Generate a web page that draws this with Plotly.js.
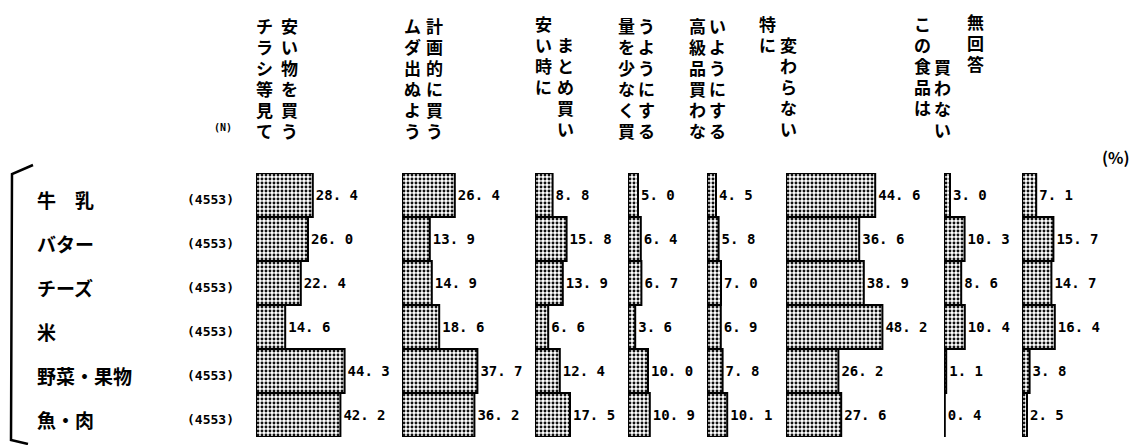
<!DOCTYPE html>
<html>
<head>
<meta charset="utf-8">
<script src="https://cdn.plot.ly/plotly-3.0.1.min.js"></script>
<style>
  html, body { margin: 0; padding: 0; background: #fff; }
  #plot { width: 1140px; height: 445px; }
</style>
</head>
<body>
<div id="plot"></div>
<script>
// foods (rows, top to bottom) and sample size
let arrFoods = ["牛　乳", "バター", "チーズ", "米", "野菜・果物", "魚・肉"];
let arrN = ["(4553)", "(4553)", "(4553)", "(4553)", "(4553)", "(4553)"];

// one array per answer column (%)
let arrCheap    = [28.4, 26.0, 22.4, 14.6, 44.3, 42.2];
let arrPlan     = [26.4, 13.9, 14.9, 18.6, 37.7, 36.2];
let arrBulk     = [8.8, 15.8, 13.9, 6.6, 12.4, 17.5];
let arrLess     = [5.0, 6.4, 6.7, 3.6, 10.0, 10.9];
let arrNoLuxury = [4.5, 5.8, 7.0, 6.9, 7.8, 10.1];
let arrNoChange = [44.6, 36.6, 38.9, 48.2, 26.2, 27.6];
let arrNotBuy   = [3.0, 10.3, 8.6, 10.4, 1.1, 0.4];
let arrNoAnswer = [7.1, 15.7, 14.7, 16.4, 3.8, 2.5];

let arrSeries = [arrCheap, arrPlan, arrBulk, arrLess, arrNoLuxury, arrNoChange, arrNotBuy, arrNoAnswer];

// vertical headers, each column of text written top to bottom
let arrHeaders = [
  [{txt: "チラシ等見て", x: 264, y: 12}, {txt: "安い物を買う", x: 289, y: 12}],
  [{txt: "ムダ出ぬよう", x: 412, y: 12}, {txt: "計画的に買う", x: 434, y: 12}],
  [{txt: "安い時に", x: 543, y: 10}, {txt: "まとめ買い", x: 565, y: 31}],
  [{txt: "量を少なく買", x: 626, y: 12}, {txt: "うようにする", x: 646, y: 12}],
  [{txt: "高級品買わな", x: 697, y: 12}, {txt: "いようにする", x: 717, y: 12}],
  [{txt: "特に", x: 767, y: 10}, {txt: "変わらない", x: 788, y: 31}],
  [{txt: "この食品は", x: 922, y: 10}, {txt: "買わない", x: 942, y: 53}],
  [{txt: "無回答", x: 975, y: 8}]
];

// panel left edges and widths in px (2 px per %)
let arrLeft  = [256, 402, 535, 628, 707, 786, 944, 1022];
let arrWidth = [134, 122, 84, 72, 72, 150, 70, 108];

const W = 1140, H = 445;
const px = v => v / W;
const py = v => 1 - v / H;

let traces = [];
let layout = {
  width: W, height: H,
  margin: {l: 0, r: 0, t: 0, b: 0},
  paper_bgcolor: "#fff",
  plot_bgcolor: "rgba(0,0,0,0)",
  showlegend: false,
  bargap: 0,
  font: {family: "Noto Sans CJK JP", color: "#000"},
  yaxis: {
    domain: [py(437), py(173)],
    type: "category",
    categoryarray: arrFoods,
    autorange: "reversed",
    showticklabels: false, showgrid: false, zeroline: false, showline: false,
    fixedrange: true
  },
  annotations: [],
  shapes: []
};

arrSeries.forEach((arrVals, i) => {
  let axName = i === 0 ? "x" : "x" + (i + 1);
  traces.push({
    type: "bar",
    orientation: "h",
    x: arrVals,
    y: arrFoods,
    xaxis: axName,
    yaxis: "y",
    text: arrVals.map(v => v.toFixed(1).replace(".", ". ")),
    textposition: "outside",
    constraintext: "none",
    cliponaxis: false,
    textfont: {family: "DejaVu Sans Mono", size: 14, color: "#000", weight: "bold"},
    marker: {
      color: "#fff",
      line: {color: "#000", width: 2},
      pattern: {shape: ".", fgcolor: "#111", bgcolor: "#fff", size: 4, solidity: 0.42}
    },
    hoverinfo: "skip"
  });
  layout[i === 0 ? "xaxis" : "xaxis" + (i + 1)] = {
    domain: [px(arrLeft[i]), px(arrLeft[i] + arrWidth[i])],
    range: [0, arrWidth[i] / 2],
    anchor: "y",
    showticklabels: false, showgrid: false, zeroline: false, showline: false,
    ticks: "", fixedrange: true
  };
});

// row labels and N
arrFoods.forEach((food, k) => {
  layout.annotations.push({
    xref: "paper", yref: "y", x: px(35), y: food, xanchor: "left", yanchor: "middle",
    text: "<b>" + food + "</b>", showarrow: false, yshift: -4,
    font: {family: "Noto Sans CJK JP", size: 19}
  });
  layout.annotations.push({
    xref: "paper", yref: "y", x: px(185), y: food, xanchor: "left", yanchor: "middle",
    text: "<b>" + arrN[k] + "</b>", showarrow: false, yshift: -4,
    font: {family: "DejaVu Sans Mono", size: 13}
  });
});

// vertical headers: one annotation per character, 21 px pitch
arrHeaders.forEach(cols => {
  cols.forEach(c => {
    c.txt.split("").forEach((ch, j) => {
      layout.annotations.push({
        xref: "paper", yref: "paper", x: px(c.x), y: py(c.y + j * 21),
        xanchor: "center", yanchor: "top",
        text: "<b>" + ch + "</b>",
        showarrow: false, borderpad: 0,
        font: {family: "Noto Sans CJK JP", size: 17}
      });
    });
  });
});

layout.annotations.push({
  xref: "paper", yref: "paper", x: px(223), y: py(127), xanchor: "center", yanchor: "middle",
  text: "<b>(N)</b>", showarrow: false, font: {family: "DejaVu Sans Mono", size: 10}
});
layout.annotations.push({
  xref: "paper", yref: "paper", x: px(1116), y: py(157), xanchor: "center", yanchor: "middle",
  text: "<b>(%)</b>", showarrow: false, font: {family: "Noto Sans CJK JP", size: 16}
});

// left bracket
layout.shapes.push({
  type: "path", xref: "paper", yref: "paper",
  path: "M " + px(33) + "," + py(165) + " L " + px(12) + "," + py(174) +
        " L " + px(11) + "," + py(440) + " L " + px(28) + "," + py(444),
  line: {color: "#000", width: 2.5}
});

Plotly.newPlot("plot", traces, layout, {staticPlot: true});
</script>
</body>
</html>
